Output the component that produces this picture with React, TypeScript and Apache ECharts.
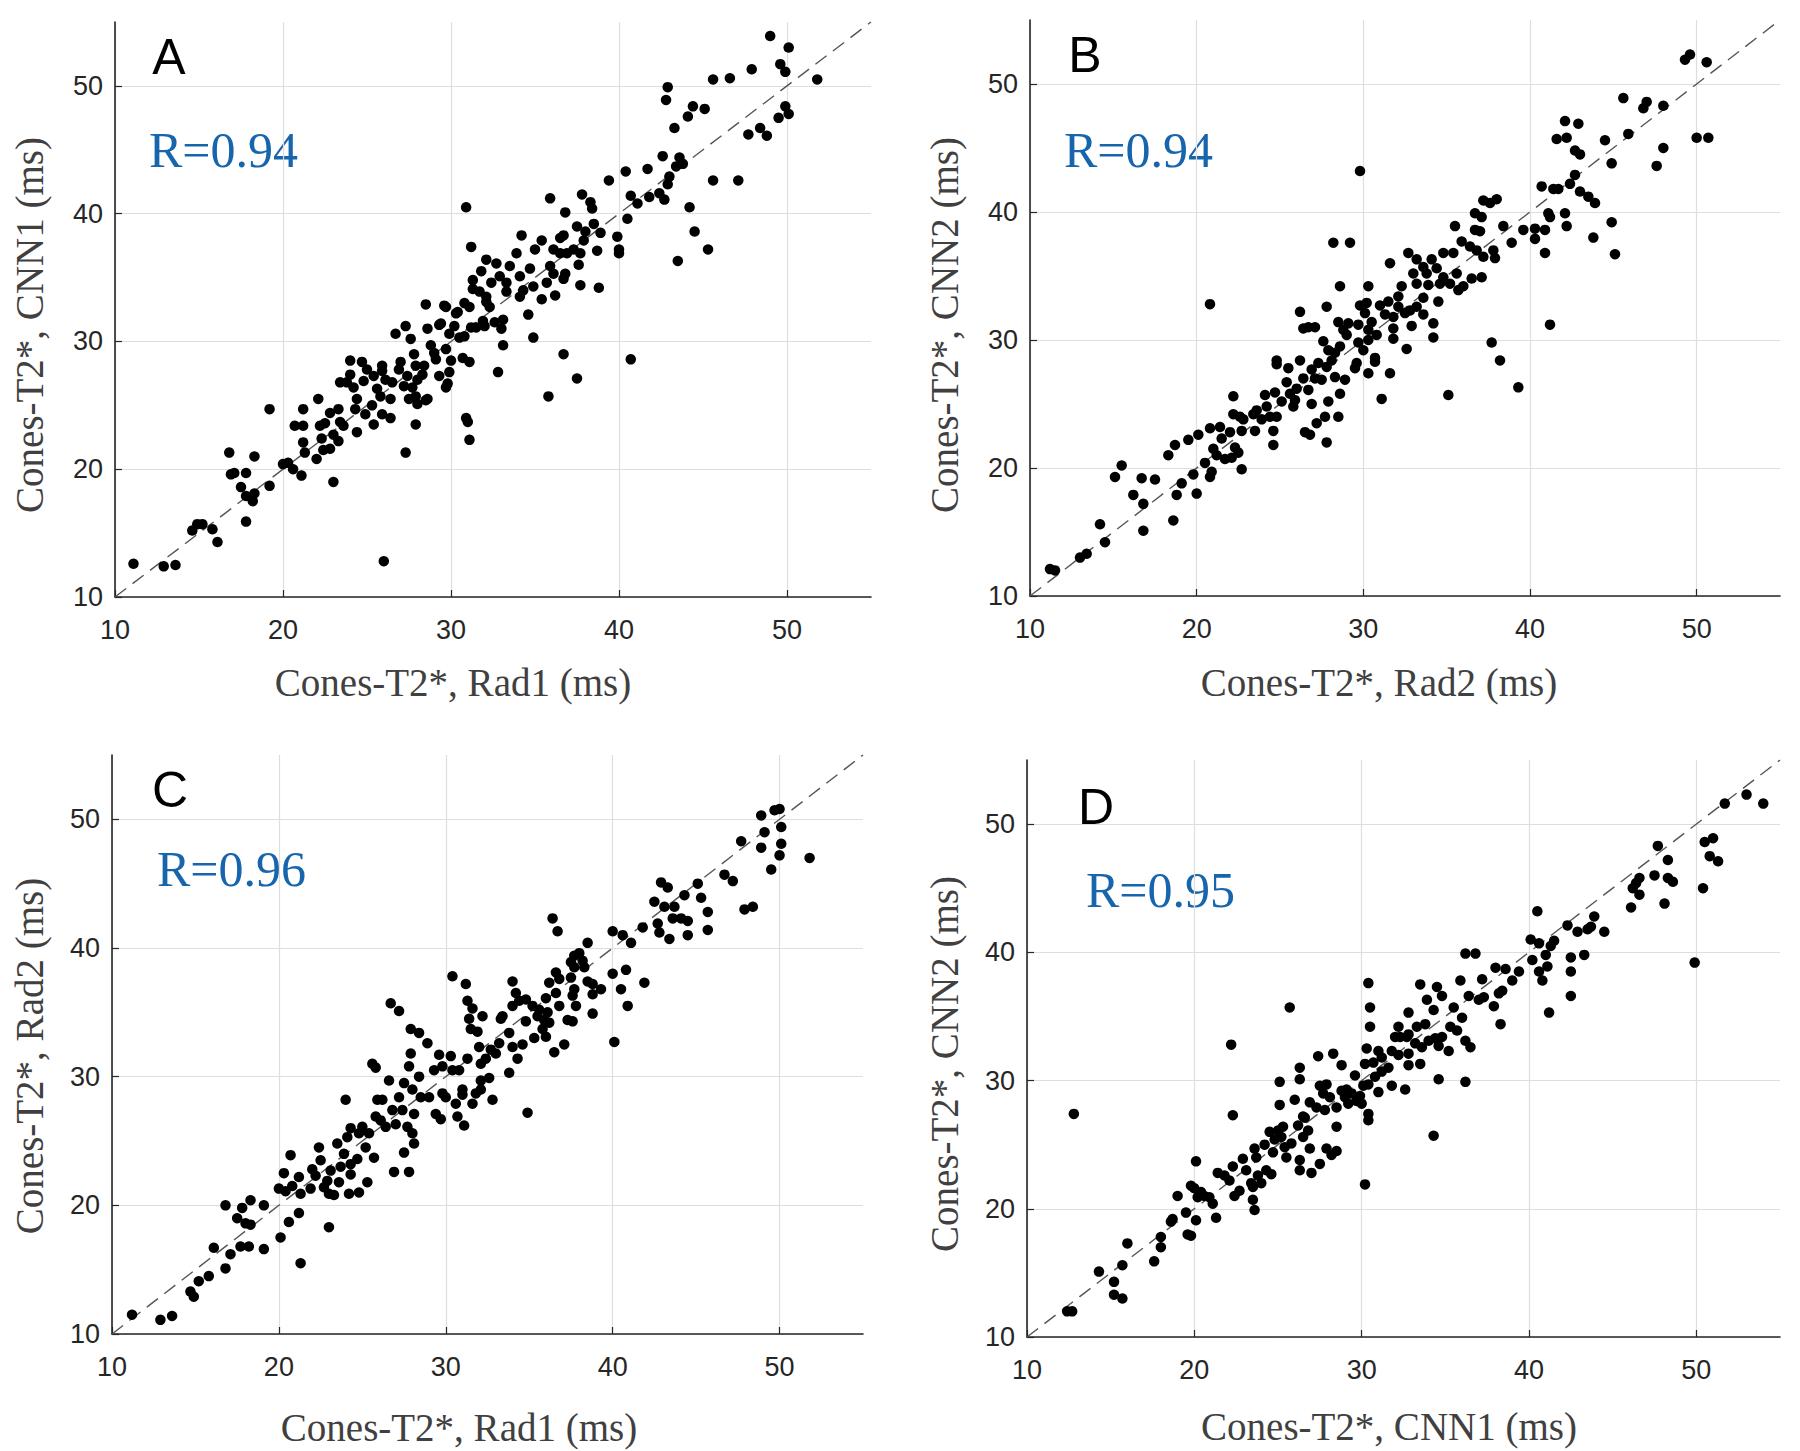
import React, { useEffect, useRef } from 'react';
import * as echarts from 'echarts';

// ---------- data ----------
const tickValues = [10, 20, 30, 40, 50];
const axisMin = 10;
const axisMax = 55;
const identityLine = [[10, 10], [55, 55]];

const panelLetters = ['A', 'B', 'C', 'D'];
const rValues = ['R=0.94', 'R=0.94', 'R=0.96', 'R=0.95'];
const xTitles = ['Cones-T2*, Rad1 (ms)', 'Cones-T2*, Rad2 (ms)', 'Cones-T2*, Rad1 (ms)', 'Cones-T2*, CNN1 (ms)'];
const yTitles = ['Cones-T2*, CNN1 (ms)', 'Cones-T2*, CNN2 (ms)', 'Cones-T2*, Rad2 (ms)', 'Cones-T2*, CNN2 (ms)'];

// A: Rad1 vs CNN1
const panelA: number[][] = [
  [11.1,12.6],[12.9,12.4],[13.6,12.5],[14.6,15.2],[14.9,15.7],[15.2,15.7],[15.8,15.3],[16.1,14.3],[16.8,21.3],[18.3,21.0],
  [16.9,19.6],[17.1,19.7],[17.8,19.7],[17.5,18.6],[17.8,17.9],[18.3,18.1],[18.2,17.5],[17.8,15.9],[19.2,24.7],[19.2,18.7],
  [20.0,20.4],[20.3,20.5],[20.6,20.0],[21.1,19.5],[20.7,23.4],[21.2,23.4],[21.2,24.7],[21.2,22.1],[21.3,21.3],[22.0,20.8],
  [22.1,25.5],[22.3,22.4],[22.2,23.4],[22.5,23.6],[22.8,24.4],[23.3,24.7],[23.0,22.7],[22.8,21.6],[22.4,21.5],[23.4,23.7],
  [23.6,23.4],[23.3,22.2],[23.0,19.0],[24.4,22.9],[23.4,26.8],[24.0,28.5],[24.7,28.4],[24.0,27.4],[23.8,26.8],[24.2,26.4],
  [24.4,25.5],[24.3,24.7],[24.9,24.3],[24.8,26.9],[25.0,27.8],[25.4,27.3],[25.6,26.3],[25.8,25.7],[25.3,25.0],[25.4,23.5],
  [25.9,28.1],[25.9,27.7],[26.1,27.0],[26.5,26.8],[26.4,25.5],[25.9,24.3],[26.4,24.0],[26.0,12.8],[26.7,30.6],[26.9,27.8],
  [27.0,28.4],[27.2,26.5],[27.4,27.3],[27.5,25.5],[27.3,31.2],[27.6,30.2],[27.8,29.0],[27.9,28.1],[28.0,27.0],[27.7,26.4],
  [27.9,25.7],[28.0,25.1],[28.6,25.5],[27.9,23.5],[27.3,21.3],[28.3,27.4],[28.4,28.1],[28.5,32.9],[28.6,31.0],[28.8,29.7],
  [29.0,29.1],[29.3,27.3],[29.1,28.6],[29.4,31.4],[29.6,32.8],[29.7,29.4],[29.8,26.7],[29.7,26.4],[29.9,30.6],[29.9,27.6],
  [30.0,28.5],[30.2,31.2],[30.4,32.3],[30.5,30.3],[30.8,30.4],[30.7,28.7],[31.1,28.4],[31.0,23.7],[31.1,22.3],[31.2,31.1],
  [31.5,31.1],[32.0,31.2],[32.1,33.1],[32.3,32.7],[32.6,31.5],[32.8,27.6],[33.1,29.7],[33.1,31.7],
  [29.7,32.7],[30.3,32.2],[30.8,33.0],[31.1,32.7],[31.9,31.6],[33.0,31.0],[29.3,31.3],[28.5,25.4],[30.9,24.0],
  [49.0,53.9],[50.1,53.0],[49.6,51.7],[49.9,51.1],[51.8,50.5],[47.9,51.3],[46.6,50.6],[45.6,50.5],[42.9,49.9],[42.8,48.9],
  [44.4,48.4],[45.1,48.2],[44.1,47.6],[43.3,46.7],[49.9,48.4],[50.1,47.8],[49.5,47.5],[48.4,46.7],[48.8,46.1],[47.7,46.2],
  [42.6,44.5],[43.6,44.4],[43.8,43.9],[43.4,43.7],[41.7,43.5],[40.4,43.3],[43.0,42.9],[42.9,42.3],[39.4,42.6],[45.6,42.6],
  [47.1,42.6],[41.8,41.3],[42.4,41.6],[42.7,41.1],[40.7,41.4],[41.1,40.8],[40.5,39.6],[44.2,40.5],[44.5,38.6],[45.3,37.2],
  [43.5,36.3],[39.9,38.2],[40.0,37.2],[40.0,36.9],[38.7,37.1],[38.8,34.2],[40.7,28.6],[37.8,41.5],[38.3,40.9],[38.4,40.4],
  [35.9,41.2],[36.8,40.1],[37.5,39.0],[38.0,38.6],[38.5,39.2],[38.9,38.5],[37.9,37.9],[36.5,38.1],[36.7,38.3],[36.1,37.2],
  [35.4,37.9],[35.0,37.2],[34.2,38.3],[36.5,36.9],[36.9,36.9],[37.3,37.2],[37.7,36.9],[37.6,36.0],[36.8,35.3],[36.7,34.9],
  [36.1,35.3],[35.9,35.9],[35.7,34.6],[36.2,33.6],[37.7,34.4],[35.4,33.3],[34.9,34.3],[34.7,35.7],[33.9,36.9],[33.5,35.9],
  [32.7,36.1],[32.1,36.4],[31.8,35.5],[31.3,34.8],[31.3,34.1],[31.7,33.9],[32.1,33.5],[32.4,34.6],[32.9,35.1],[33.3,34.6],
  [34.1,35.1],[34.3,34.0],[34.1,33.5],[33.3,33.9],[34.6,32.1],[34.9,30.3],[36.7,29.0],[37.5,27.1],[35.8,25.7],[30.9,40.5],
  [31.2,37.4]
];

// B: Rad2 vs CNN2
const panelB: number[][] = [
  [11.2,12.1],[11.5,12.0],[13.0,13.0],[13.4,13.3],[14.2,15.6],[14.5,14.2],[15.1,19.3],[15.5,20.2],[16.2,17.9],[16.7,19.2],
  [16.8,17.2],[16.8,15.1],[17.5,19.1],[18.3,21.0],[18.7,21.8],[18.6,15.9],[18.8,17.9],[19.1,18.8],[19.5,22.2],[19.8,19.5],
  [20.0,18.0],[20.1,22.6],[20.5,20.4],[20.8,23.1],[20.8,19.3],[20.9,19.7],[21.0,21.5],[21.2,21.0],[21.4,23.2],[21.5,22.3],
  [21.7,20.7],[22.1,20.8],[22.3,21.6],[22.5,21.2],[22.0,22.8],[22.2,24.2],[22.2,25.6],[22.7,19.9],[22.6,24.0],[22.8,23.8],
  [22.7,22.9],[23.4,24.2],[23.6,24.5],[23.5,22.9],[23.9,23.8],[24.1,25.7],[24.2,24.8],[24.4,24.0],[24.6,22.9],[24.6,21.8],
  [24.7,25.9],[24.8,24.0],[24.8,28.4],[24.8,28.1],[25.1,25.2],[25.4,26.7],[25.5,27.8],[25.6,25.8],[25.8,24.8],[25.9,25.3],
  [26.0,26.2],[26.2,28.4],[26.2,32.2],[20.8,32.8],[26.4,30.9],[26.5,22.8],[26.4,27.0],
  [45.6,48.9],[47.0,48.6],[46.8,48.1],[48.0,48.3],[48.0,45.0],[47.6,43.6],[45.9,46.1],[42.1,47.1],[42.9,46.9],[41.6,45.7],
  [42.2,45.8],[42.7,44.8],[43.0,44.5],[44.5,45.6],[44.9,43.8],[42.7,42.9],[42.4,42.2],[43.0,41.6],[43.5,41.2],[43.9,40.7],
  [40.7,42.0],[41.4,41.8],[41.7,41.8],[41.1,39.9],[41.2,39.6],[42.1,39.9],[42.2,38.9],[44.9,39.2],[43.8,38.0],[45.1,36.7],
  [40.9,38.6],[40.3,38.7],[40.3,37.9],[39.6,38.6],[40.9,36.8],[41.2,31.2],[38.4,38.9],[38.9,37.6],[37.2,40.9],[38.0,41.0],
  [37.6,40.7],[36.7,39.9],[37.1,39.6],[36.7,38.6],[37.0,38.5],[35.5,38.9],[35.9,37.7],[36.4,37.3],[36.8,37.0],[37.2,36.5],
  [37.9,36.4],[37.8,37.0],[32.7,36.8],[33.2,36.3],[31.6,36.0],[34.1,36.3],[34.8,36.8],[35.4,36.8],[33.6,35.7],[33.8,35.2],
  [34.4,35.6],[34.8,34.9],[35.2,34.4],[35.6,35.2],[36.0,34.2],[35.7,33.9],[36.5,34.8],[37.1,34.9],[33.0,35.2],[33.2,34.4],
  [33.9,34.3],[34.6,34.4],[32.3,34.2],[32.1,33.4],[31.5,33.0],[31.0,32.7],[33.6,33.3],[34.5,33.0],[33.2,32.6],[32.8,32.3],
  [32.1,32.6],[32.5,32.1],[31.8,31.8],[31.3,32.0],[30.3,34.2],[30.2,32.9],[29.8,32.7],[30.1,32.1],[30.5,31.4],[30.8,30.4],
  [30.3,30.8],[29.7,31.2],[29.7,29.8],[30.0,29.2],[30.3,30.0],[30.7,28.6],[30.7,28.3],[31.6,27.4],[31.8,30.1],[31.8,30.9],
  [32.6,29.3],[32.9,31.1],[33.6,32.0],[34.2,31.3],[34.2,30.2],[37.7,29.8],[38.2,28.4],[39.3,26.3],[35.1,25.7],[31.1,25.4],
  [29.8,43.2],[28.2,37.6],[29.2,37.6],[28.6,34.2],[27.8,32.6],[26.7,31.0],[27.1,31.0],[28.5,31.4],[28.8,30.8],[29.1,31.3],
  [29.0,30.4],[28.6,29.5],[28.3,29.0],[27.6,29.9],[27.9,29.2],[28.1,28.4],[27.8,27.9],[27.3,28.2],[26.9,27.7],[27.1,27.0],
  [27.5,26.9],[28.3,27.1],[28.9,26.9],[29.6,28.2],[29.5,27.8],[30.3,27.4],[26.7,26.1],[27.9,25.2],[28.6,25.8],[26.9,25.0],
  [27.7,24.0],[49.3,51.9],[49.6,52.3],[50.6,51.7],[50.0,45.8],[50.7,45.8],[27.2,23.5],[27.8,22.0],[28.5,24.0],[26.8,22.6]
];

// C: Rad1 vs Rad2
const panelC: number[][] = [
  [11.2,11.5],[12.9,11.1],[13.6,11.4],[14.7,13.3],[14.9,12.9],[15.2,14.1],[15.8,14.5],[16.1,16.7],[16.8,15.1],[17.1,16.2],
  [16.8,20.0],[17.5,19.0],[17.8,19.8],[18.3,20.4],[18.0,18.6],[18.3,18.5],[17.7,16.8],[18.2,16.8],[19.1,20.0],[19.1,16.6],
  [20.1,17.5],[20.6,18.7],[21.2,19.4],[21.3,15.5],[20.0,21.3],[20.3,22.5],[20.7,23.9],[20.4,21.1],[20.8,21.5],[21.2,22.2],
  [21.3,20.9],[21.9,21.3],[22.2,22.3],[22.0,22.8],[22.4,24.5],[22.5,23.5],[22.7,21.4],[23.0,20.9],[23.3,20.8],[22.9,21.9],
  [23.1,22.7],[23.6,21.8],[23.7,23.0],[23.5,24.8],[23.0,18.3],[23.9,24.0],[24.1,25.3],[24.3,23.2],[24.3,22.4],[24.2,20.9],
  [24.8,21.0],[24.7,23.6],[24.8,25.6],[24.0,28.2],[24.3,26.0],[25.0,26.1],[25.2,24.5],[25.3,21.8],[25.4,25.6],[25.7,23.7],
  [25.8,26.9],[25.9,28.2],[25.6,31.0],[25.8,30.7],[26.2,28.2],[26.1,26.6],[26.4,26.1],[26.6,29.7],[26.7,35.7],[27.2,35.1],
  [26.8,27.4],[27.0,26.3],[26.9,22.6],[27.2,28.4],[27.4,27.4],[27.5,29.5],[27.5,24.1],[27.7,26.1],[27.8,22.6],[27.9,33.7],
  [28.4,33.4],[27.9,31.8],[27.8,30.8],[28.0,29.0],[28.1,27.1],[28.0,25.6],[28.1,24.8],[28.4,30.0],[28.5,28.4],[28.9,32.6],
  [29.0,28.4],[29.3,30.5],[29.4,27.1],[29.6,31.7],[29.7,26.7],[29.8,30.8],[29.8,28.7],[30.0,28.4],[30.3,31.6],[30.4,30.5],
  [49.7,50.7],[50.0,50.8],[48.9,50.3],[50.1,49.4],[49.1,49.0],[50.1,48.1],[48.9,47.8],[50.0,47.2],[47.7,48.3],[51.8,47.0],
  [49.5,46.1],[46.7,45.7],[47.2,45.2],[47.9,43.0],[48.4,43.2],[45.1,45.0],[42.9,45.1],[43.3,44.7],[44.3,44.1],[45.3,43.9],
  [42.5,43.6],[43.1,43.2],[43.7,43.2],[43.6,42.3],[44.1,42.3],[44.5,42.1],[45.7,42.8],[45.7,41.4],[42.7,41.9],[42.8,41.2],
  [43.4,40.7],[44.5,41.0],[41.8,41.6],[40.0,41.3],[40.6,41.0],[41.1,40.4],[36.4,42.3],[36.7,41.3],[38.5,40.4],[38.0,39.6],
  [37.7,39.4],[37.5,38.9],[38.2,39.0],[38.3,38.5],[37.7,38.5],[36.6,38.1],[36.8,37.6],[36.2,37.3],[37.5,37.7],[38.5,37.4],
  [38.8,37.2],[39.3,36.8],[38.8,36.4],[37.7,36.8],[37.6,36.3],[37.8,35.5],[36.8,35.5],[36.6,36.5],[36.0,36.1],[36.1,35.0],
  [37.3,34.4],[37.6,34.3],[38.8,34.9],[40.0,38.0],[40.8,38.3],[40.5,36.8],[40.9,35.5],[41.9,37.3],[40.1,32.7],[30.4,37.8],
  [31.2,37.2],[34.0,37.4],[34.2,36.5],[31.3,35.9],[31.6,35.3],[32.2,34.7],[31.4,34.5],[31.5,33.7],[31.9,33.5],[33.3,34.5],
  [33.4,34.7],[34.0,35.5],[34.4,35.9],[34.8,36.0],[35.2,35.5],[35.6,35.2],[35.5,34.7],[35.9,34.4],[36.2,34.2],[35.8,33.7],
  [36.0,33.1],[34.8,34.3],[35.3,33.0],[34.6,32.5],[33.8,33.4],[34.0,32.3],[34.3,31.4],[33.8,30.3],[36.5,31.9],[37.1,32.5],
  [33.2,32.6],[33.0,31.8],[32.7,32.1],[32.0,32.3],[32.4,31.4],[32.1,31.0],[31.3,31.4],[30.8,30.5],[31.0,29.0],[31.0,28.6],
  [31.6,27.9],[32.1,29.0],[32.1,29.7],[32.6,29.9],[32.8,28.2],[31.8,28.7],[30.6,27.9],[30.7,26.9],[31.1,26.2],[34.9,27.2]
];

// D: CNN1 vs CNN2
const panelD: number[][] = [
  [12.4,12.0],[12.7,12.0],[12.8,27.4],[14.3,15.1],[15.2,14.3],[15.2,13.3],[15.7,13.0],[15.7,15.6],[16.0,17.3],[17.6,15.9],
  [18.0,17.8],[18.0,17.0],[18.6,19.0],[18.7,19.2],[19.0,21.0],[19.5,19.7],[19.6,18.0],[19.8,17.9],[19.8,21.8],[20.0,21.6],
  [20.1,23.7],[20.1,19.1],[20.2,20.9],[20.4,21.3],[20.6,21.0],[20.9,20.9],[21.1,20.4],[21.3,19.3],[21.4,22.8],[21.8,22.6],
  [22.1,22.2],[22.2,32.8],[22.3,27.3],[22.3,23.3],[22.4,21.0],[22.7,21.4],[22.9,23.9],[23.1,23.0],[23.4,22.0],[23.5,21.7],
  [23.5,20.7],[23.6,19.9],[23.6,24.7],[23.7,24.0],[23.8,22.6],[24.0,22.0],[24.2,25.0],[24.3,23.0],[24.5,26.0],[24.6,22.7],
  [24.7,24.4],[24.8,25.4],[25.0,26.1],[25.1,29.9],[25.1,28.1],[25.2,25.6],[25.3,26.4],[25.4,24.8],[25.5,24.0],[25.7,35.7],
  [25.8,25.1],[26.0,28.5],[26.2,26.5],[26.3,31.0],[26.3,30.1],[26.3,23.8],[26.3,23.0],[26.5,27.2],[26.5,25.6],
  [47.7,48.3],[48.3,47.2],[47.5,46.0],[48.3,45.8],[46.6,45.8],[46.4,45.4],[46.2,45.0],[46.6,44.5],[46.1,43.5],[48.1,43.8],
  [40.5,43.2],[43.9,42.8],[42.3,42.1],[42.9,41.6],[43.5,41.8],[43.7,42.0],[44.5,41.6],[41.5,40.9],[41.3,40.5],[40.1,41.0],
  [40.6,40.7],[41.0,39.8],[40.2,39.4],[41.1,38.9],[42.5,39.6],[43.3,39.8],[42.5,38.5],[42.5,36.6],[41.2,35.3],[40.6,38.5],
  [40.8,37.8],[36.2,39.9],[36.8,39.9],[38.0,38.8],[38.6,38.7],[39.4,38.5],[39.0,37.8],[38.4,37.0],[37.2,37.9],[35.9,37.8],
  [38.2,36.8],[37.9,35.8],[38.3,34.4],[37.3,36.5],[37.0,36.3],[36.4,36.6],[34.8,36.6],[34.5,37.3],[33.5,37.5],[30.4,37.6],
  [30.5,35.7],[30.5,34.2],[32.8,35.3],[33.9,36.3],[34.3,35.5],[35.5,35.7],[36.0,34.9],[35.3,34.2],[35.7,33.9],[36.2,33.1],
  [36.5,32.6],[35.2,32.3],[34.6,32.7],[34.4,33.3],[34.8,33.4],[33.8,34.4],[33.3,34.2],[32.8,33.6],[32.2,34.2],[32.7,33.4],
  [33.2,32.9],[33.6,32.6],[34.0,33.1],[32.3,33.4],[32.0,33.4],[31.8,32.3],[32.2,32.0],[32.8,32.1],[33.5,31.3],[32.8,31.2],
  [34.6,30.1],[36.2,29.9],[31.8,29.6],[32.6,29.3],[31.0,32.3],[30.3,32.5],[31.2,31.8],[30.7,31.4],[30.2,31.3],[31.6,31.0],
  [31.2,30.7],[30.8,30.3],[30.4,29.7],[31.0,29.1],[29.6,30.4],[30.1,29.6],[29.9,28.8],[30.4,27.4],[30.4,26.9],[34.3,25.7],
  [28.8,31.2],[28.3,32.1],[27.4,31.9],[27.5,29.6],[27.9,29.7],[27.7,29.0],[28.1,28.7],[27.3,27.9],[27.8,27.7],[28.5,27.9],
  [28.8,29.2],[29.1,29.3],[29.0,28.7],[29.4,29.0],[29.7,28.4],[30.0,28.2],[29.2,28.2],[28.5,26.4],[27.9,24.7],[28.5,24.5],
  [26.9,28.3],[26.6,27.1],[26.8,26.1],[26.9,24.7],
  [51.7,51.6],[53.0,52.3],[54.0,51.6],[50.5,48.6],[51.0,48.9],[51.3,47.1],[50.8,47.5],[50.4,45.0],[49.9,39.2],[48.6,45.5],
  [27.5,23.5],[28.2,24.2],[27.0,22.8],[30.2,21.9]
];

const panels = [panelA, panelB, panelC, panelD];

// ---------- layout ----------
const grids = [
  { left: 115, top: 22, width: 756, height: 575 },
  { left: 1030, top: 20, width: 750, height: 576 },
  { left: 112, top: 755, width: 751, height: 579 },
  { left: 1027, top: 760, width: 753, height: 577 },
];
const letterPos = [[169, 57], [1085, 55], [170, 790], [1096, 807]];
const rPos = [[149, 150], [1064, 150], [157, 869], [1086, 890]];
const xTitlePos = [[453, 682], [1379, 682], [459, 1427], [1389, 1426]];
const yTitlePos = [[29, 325], [944, 325], [29, 1056], [944, 1064]];

const AXIS_COLOR = '#262626';
const SANS = '"Liberation Sans", Arial, sans-serif';
const SERIF = '"Liberation Serif", "Times New Roman", serif';

function buildOption() {
  const axisCommon = {
    type: 'value',
    min: axisMin,
    max: axisMax,
    interval: 10,
    axisLine: { show: true, onZero: false, lineStyle: { color: AXIS_COLOR, width: 1.6 } },
    axisTick: { show: true, inside: true, length: 7, customValues: tickValues, lineStyle: { color: AXIS_COLOR, width: 1.2 } },
    splitLine: { show: true, lineStyle: { color: '#dedede', width: 1.2 } },
  };
  const xAxis = grids.map((_, i) => ({
    ...axisCommon,
    gridIndex: i,
    position: 'bottom',
    axisLabel: { customValues: tickValues, margin: 19, fontSize: 27, color: AXIS_COLOR, fontFamily: SANS },
  }));
  const yAxis = grids.map((_, i) => ({
    ...axisCommon,
    gridIndex: i,
    position: 'left',
    axisLabel: { customValues: tickValues, margin: 12, fontSize: 27, color: AXIS_COLOR, fontFamily: SANS },
  }));
  const series: any[] = [];
  panels.forEach((pts, i) => {
    series.push({
      type: 'line',
      xAxisIndex: i,
      yAxisIndex: i,
      data: identityLine,
      symbol: 'none',
      silent: true,
      z: 1,
      lineStyle: { color: '#555', width: 1.4, type: [14, 8] },
    });
    series.push({
      type: 'scatter',
      xAxisIndex: i,
      yAxisIndex: i,
      data: pts,
      symbol: 'circle',
      symbolSize: 10.5,
      z: 2,
      itemStyle: { color: '#000', opacity: 1 },
    });
  });
  const graphic: any[] = [];
  for (let i = 0; i < 4; i++) {
    graphic.push({
      type: 'text', x: letterPos[i][0], y: letterPos[i][1],
      style: { text: panelLetters[i], fill: '#000', font: `50px ${SANS}`, align: 'center', verticalAlign: 'middle' },
    });
    graphic.push({
      type: 'text', x: rPos[i][0], y: rPos[i][1],
      style: { text: rValues[i], fill: '#1766ad', font: `50px ${SERIF}`, align: 'left', verticalAlign: 'middle' },
    });
    graphic.push({
      type: 'text', x: xTitlePos[i][0], y: xTitlePos[i][1],
      style: { text: xTitles[i], fill: '#404040', font: `39px ${SERIF}`, align: 'center', verticalAlign: 'middle' },
    });
    graphic.push({
      type: 'text', x: yTitlePos[i][0], y: yTitlePos[i][1], rotation: Math.PI / 2,
      style: { text: yTitles[i], fill: '#404040', font: `39px ${SERIF}`, align: 'center', verticalAlign: 'middle' },
    });
  }
  return {
    animation: false,
    backgroundColor: '#ffffff',
    grid: grids.map((g) => ({ ...g, containLabel: false, outerBoundsMode: 'none' })),
    xAxis,
    yAxis,
    series,
    graphic,
  };
}

export default function App() {
  const ref = useRef<HTMLDivElement>(null);
  useEffect(() => {
    if (!ref.current) return;
    const chart = echarts.init(ref.current, undefined, { renderer: 'svg' });
    chart.setOption(buildOption() as any);
    return () => chart.dispose();
  }, []);
  return (
    <div
      ref={ref}
      style={{ position: 'absolute', left: 0, top: 0, width: 1800, height: 1451, background: '#fff' }}
    />
  );
}
